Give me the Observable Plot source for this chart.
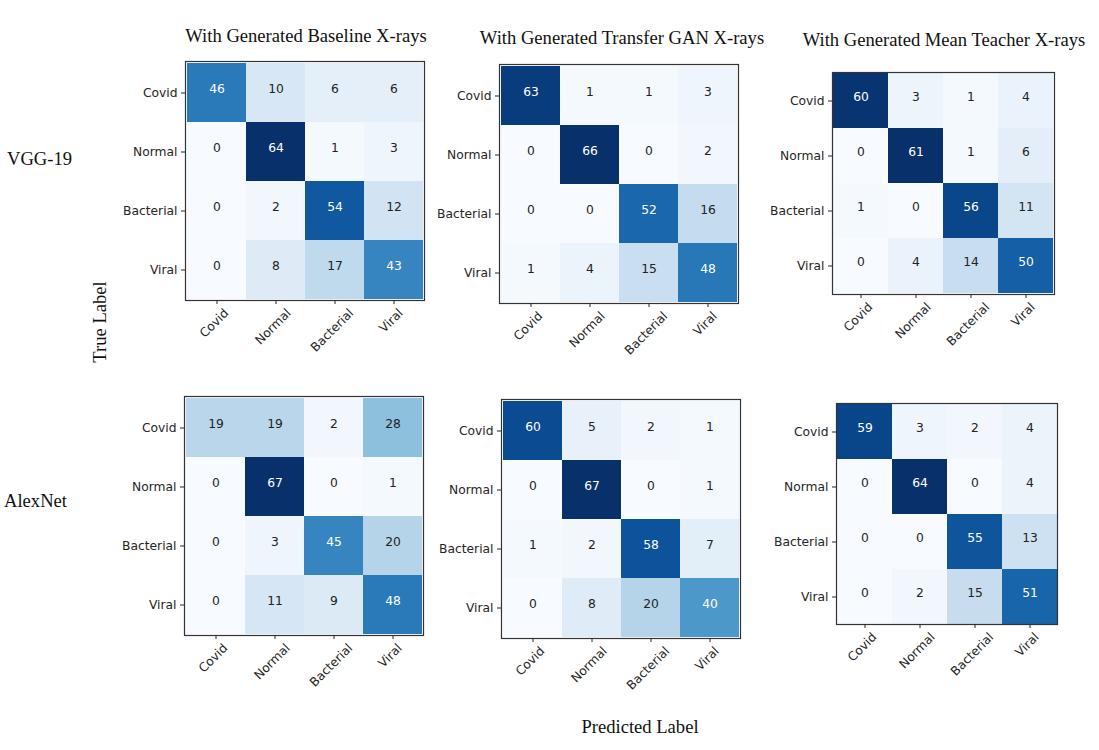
<!DOCTYPE html>
<html><head><meta charset="utf-8">
<script src="https://cdn.jsdelivr.net/npm/d3@7"></script>
<script src="https://cdn.jsdelivr.net/npm/@observablehq/plot@0.6"></script>
<style>
body{margin:0;background:#fff;}
#root{position:relative;width:1099px;height:750px;overflow:hidden;background:#fff;}
.lbl{position:absolute;font-family:"Liberation Serif",serif;font-size:18.6px;color:#111;white-space:nowrap;line-height:1;}
</style></head><body><div id="root"></div>
<script>
// ---- data ----
const classes = ["Covid", "Normal", "Bacterial", "Viral"];
const modelNames = ["VGG-19", "AlexNet"];
const titles = ["With Generated Baseline X-rays", "With Generated Transfer GAN X-rays", "With Generated Mean Teacher X-rays"];
const xAxisTitle = "Predicted Label";
const yAxisTitle = "True Label";
// rows = true label, columns = predicted label
const vggBaseline = [[46, 10, 6, 6], [0, 64, 1, 3], [0, 2, 54, 12], [0, 8, 17, 43]];
const vggTransfer = [[63, 1, 1, 3], [0, 66, 0, 2], [0, 0, 52, 16], [1, 4, 15, 48]];
const vggMean = [[60, 3, 1, 4], [0, 61, 1, 6], [1, 0, 56, 11], [0, 4, 14, 50]];
const alexBaseline = [[19, 19, 2, 28], [0, 67, 0, 1], [0, 3, 45, 20], [0, 11, 9, 48]];
const alexTransfer = [[60, 5, 2, 1], [0, 67, 0, 1], [1, 2, 58, 7], [0, 8, 20, 40]];
const alexMean = [[59, 3, 2, 4], [0, 64, 0, 4], [0, 0, 55, 13], [0, 2, 15, 51]];

// ---- layout ----
const ML = 75, MT = 4, MR = 6, MB = 70;
const FS = 12.3;
const panels = [
  {values: vggBaseline, fx: 185, fy: 61, size: 239},
  {values: vggTransfer, fx: 499, fy: 64, size: 239},
  {values: vggMean, fx: 832, fy: 72, size: 222},
  {values: alexBaseline, fx: 184, fy: 396, size: 239},
  {values: alexTransfer, fx: 501, fy: 399, size: 239},
  {values: alexMean, fx: 836, fy: 403, size: 221}
];

const root = document.getElementById("root");
const ctx = document.createElement("canvas").getContext("2d");
ctx.font = FS + "px 'DejaVu Sans'";
const labelWidth = c => ctx.measureText(c).width;

function matrix(values, size) {
  const rows = [];
  values.forEach((r, i) => r.forEach((v, j) => rows.push({t: classes[i], p: classes[j], v})));
  const max = d3.max(rows, d => d.v), min = d3.min(rows, d => d.v);
  const thresh = max / 2;
  // rotated x tick labels, centred under each tick (matplotlib rotation=45, ha=center)
  const xLabelMarks = classes.map(c => Plot.text([c], {
    x: d => d, text: d => d, frameAnchor: "bottom", rotate: -45, textAnchor: "middle",
    dy: 9 + (labelWidth(c) + FS) * 0.3536, fontSize: FS, fill: "#262626"
  }));
  return Plot.plot({
    width: ML + size + MR, height: MT + size + MB,
    marginLeft: ML, marginTop: MT, marginRight: MR, marginBottom: MB,
    x: {domain: classes, padding: 0, label: null},
    y: {domain: classes, padding: 0, label: null},
    color: {type: "linear", scheme: "blues", domain: [min, max]},
    style: {fontFamily: "DejaVu Sans", fontSize: FS + "px", color: "#262626", background: "transparent", overflow: "visible"},
    marks: [
      Plot.cell(rows, {x: "p", y: "t", fill: "v", inset: 0}),
      Plot.frame({stroke: "#333", strokeWidth: 1.2}),
      Plot.text(rows.filter(d => d.v > thresh), {x: "p", y: "t", text: d => String(d.v), fill: "white", dy: -4, fontSize: FS}),
      Plot.text(rows.filter(d => d.v <= thresh), {x: "p", y: "t", text: d => String(d.v), fill: "#222", dy: -4, fontSize: FS}),
      Plot.axisX({anchor: "bottom", tickSize: 4, tickFormat: () => "", label: null}),
      ...xLabelMarks,
      Plot.axisY({anchor: "left", tickSize: 4, tickPadding: 4, fontSize: FS, label: null})
    ]
  });
}

panels.forEach(p => {
  const svg = matrix(p.values, p.size);
  svg.style.position = "absolute";
  svg.style.left = (p.fx - ML) + "px";
  svg.style.top = (p.fy - MT) + "px";
  root.appendChild(svg);
});

function label(text, css) {
  const d = document.createElement("div");
  d.className = "lbl";
  d.textContent = text;
  Object.assign(d.style, css);
  root.appendChild(d);
  return d;
}
// column titles (centered)
const titleCenters = [[306, 27], [622, 29], [944, 31]];
titles.forEach((t, i) => label(t, {left: titleCenters[i][0] + "px", top: titleCenters[i][1] + "px", transform: "translateX(-50%)"}));
label(modelNames[0], {left: "7px", top: "150px"});
label(modelNames[1], {left: "4px", top: "492px"});
label(yAxisTitle, {left: "100px", top: "322px", transform: "translate(-50%,-50%) rotate(-90deg)"});
label(xAxisTitle, {left: "640px", top: "718px", transform: "translateX(-50%)"});
</script></body></html>
